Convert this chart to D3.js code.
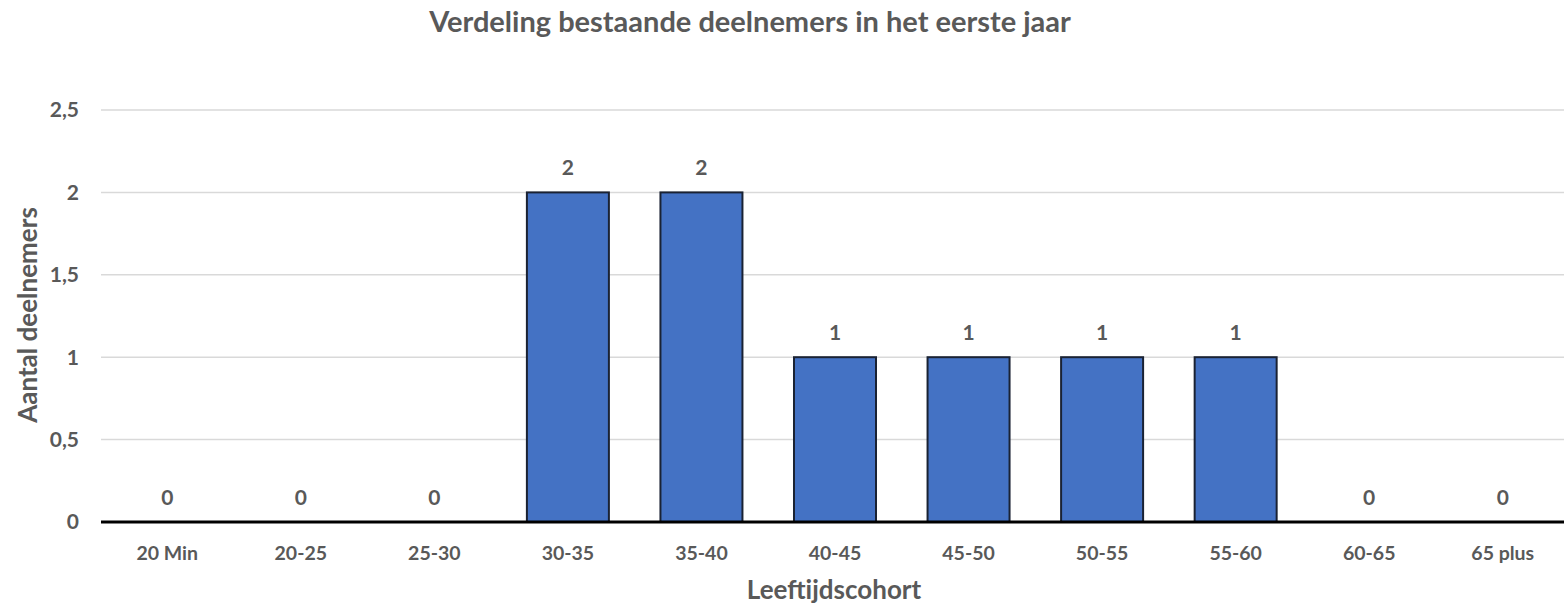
<!DOCTYPE html>
<html>
<head>
<meta charset="utf-8">
<script src="https://cdn.jsdelivr.net/npm/d3@7"></script>
<style>
  body { margin: 0; background: #fff; }
  text { font-family: Lato, "Open Sans", sans-serif; font-weight: bold; fill: #595959; }
</style>
</head>
<body>
<div id="viz"></div>
<script>
// chart data
const categories = ["20 Min", "20-25", "25-30", "30-35", "35-40", "40-45", "45-50", "50-55", "55-60", "60-65", "65 plus"];
const values = [0, 0, 0, 2, 2, 1, 1, 1, 1, 0, 0];
const yTicks = [0, 0.5, 1, 1.5, 2, 2.5];

const chartTitle = "Verdeling bestaande deelnemers in het eerste jaar";
const xTitle = "Leeftijdscohort";
const yTitle = "Aantal deelnemers";

const W = 1564, H = 604;
const margin = {top: 110, right: 0, bottom: 82, left: 101};
const width = W - margin.left - margin.right,
    height = H - margin.top - margin.bottom;

const svg = d3.select("#viz")
    .append("svg")
        .attr("width", W)
        .attr("height", H);
const g = svg.append("g")
    .attr("transform", `translate(${margin.left},${margin.top})`);

// band scale runs slightly past the right edge, like the source
const x = d3.scaleBand()
    .domain(categories)
    .range([0, 1468])
    .paddingInner(0.386)
    .paddingOuter(0.189);

const y = d3.scaleLinear()
    .domain([0, 2.5])
    .range([height, 0]);

const fmt = d => String(d).replace(".", ",");

// gridlines
g.selectAll("line.grid")
    .data(yTicks.filter(d => d > 0))
    .join("line")
        .attr("class", "grid")
        .attr("x1", 0)
        .attr("x2", width)
        .attr("y1", d => y(d))
        .attr("y2", d => y(d))
        .attr("stroke", "#d9d9d9")
        .attr("stroke-width", 1.5);

// y tick labels
g.selectAll("text.ytick")
    .data(yTicks)
    .join("text")
        .attr("class", "ytick")
        .attr("x", -22)
        .attr("y", d => y(d))
        .attr("dy", "0.35em")
        .attr("text-anchor", "end")
        .style("font-size", "21px")
        .text(fmt);

// bars
g.selectAll("rect.bar")
    .data(values)
    .join("rect")
        .attr("class", "bar")
        .attr("x", (d, i) => x(categories[i]))
        .attr("y", d => y(d))
        .attr("width", x.bandwidth())
        .attr("height", d => y(0) - y(d))
        .attr("fill", "#4472c4")
        .attr("stroke", "#1a2233")
        .attr("stroke-width", 2)
        .style("display", d => d > 0 ? null : "none");

// value labels
g.selectAll("text.value")
    .data(values)
    .join("text")
        .attr("class", "value")
        .attr("x", (d, i) => x(categories[i]) + x.bandwidth() / 2)
        .attr("y", d => y(d) - 17)
        .attr("text-anchor", "middle")
        .style("font-size", "21px")
        .text(d => d);

// baseline
g.append("line")
    .attr("x1", 0)
    .attr("x2", width)
    .attr("y1", y(0))
    .attr("y2", y(0))
    .attr("stroke", "#000")
    .attr("stroke-width", 3);

// x tick labels
g.selectAll("text.xtick")
    .data(categories)
    .join("text")
        .attr("class", "xtick")
        .attr("x", d => x(d) + x.bandwidth() / 2)
        .attr("y", height + 38)
        .attr("text-anchor", "middle")
        .style("font-size", "19.5px")
        .text(d => d);

// axis titles
svg.append("text")
    .attr("x", 834)
    .attr("y", 599)
    .attr("text-anchor", "middle")
    .style("font-size", "26px")
    .text(xTitle);

svg.append("text")
    .attr("transform", "translate(37,315) rotate(-90)")
    .attr("text-anchor", "middle")
    .style("font-size", "26px")
    .text(yTitle);

// title
svg.append("text")
    .attr("x", 750)
    .attr("y", 32)
    .attr("text-anchor", "middle")
    .style("font-size", "29px")
    .text(chartTitle);
</script>
</body>
</html>
